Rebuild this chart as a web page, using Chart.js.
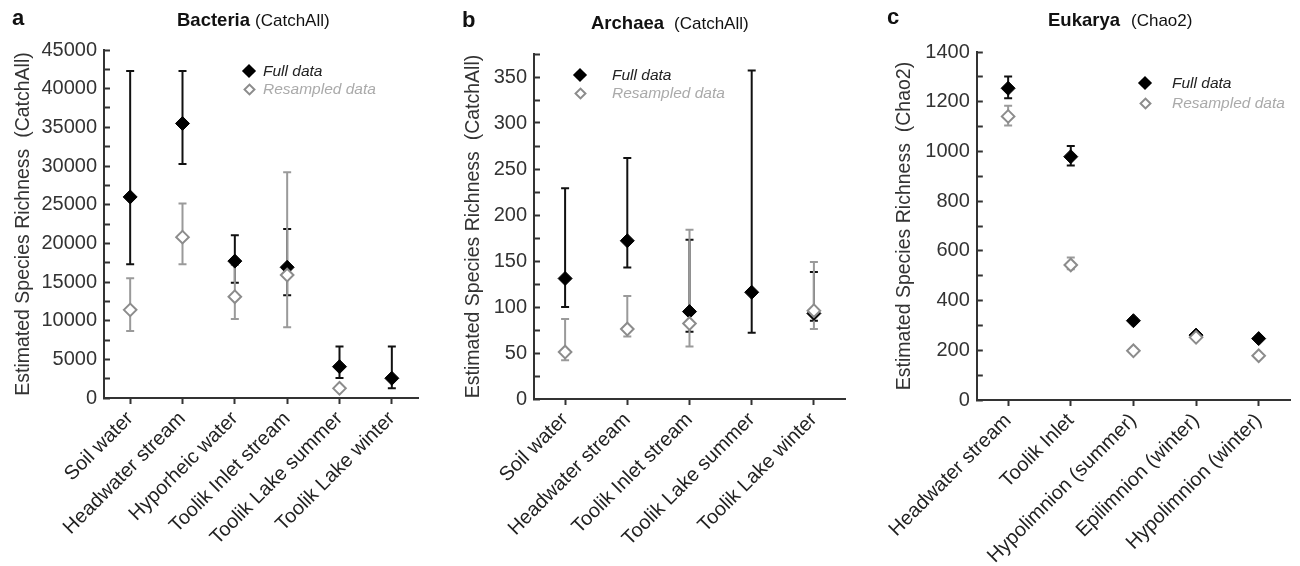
<!DOCTYPE html>
<html><head><meta charset="utf-8">
<script src="https://cdn.jsdelivr.net/npm/chart.js@4.4.0/dist/chart.umd.min.js"></script>
<style>
body{margin:0;width:1300px;height:566px;background:#fff;overflow:hidden;position:relative;font-family:"Liberation Sans",Arial,sans-serif;}
canvas{position:absolute;top:0;display:block}
.t{position:absolute;white-space:nowrap;line-height:1;color:#111}
.leg{position:absolute;white-space:nowrap;font-style:italic;font-size:15.5px;line-height:18px}
.dm{position:absolute;transform:rotate(45deg);box-sizing:border-box}
.dm.full{width:10px;height:10px;background:#000}
.dm.res{width:9px;height:9px;background:#fff;border:2px solid #8c8c8c}
</style>
</head><body>
<canvas id="ca" width="440" height="566" style="left:0px"></canvas>
<canvas id="cb" width="440" height="566" style="left:440px"></canvas>
<canvas id="cc" width="420" height="566" style="left:880px"></canvas>

<div class="t" style="left:12px;top:7px;font-size:22px;font-weight:bold">a</div>
<div class="t" style="left:177px;top:11px;font-size:18.5px"><b>Bacteria</b><span style="font-size:17px;margin-left:5px">(CatchAll)</span></div>
<div class="t" style="left:462px;top:9px;font-size:22px;font-weight:bold">b</div>
<div class="t" style="left:591px;top:14px;font-size:18.5px"><b>Archaea</b><span style="font-size:17px;margin-left:10px">(CatchAll)</span></div>
<div class="t" style="left:887px;top:6px;font-size:22px;font-weight:bold">c</div>
<div class="t" style="left:1048px;top:11px;font-size:18.5px"><b>Eukarya</b><span style="font-size:17px;margin-left:11px">(Chao2)</span></div>

<div class="dm full" style="left:244px;top:66px"></div>
<div class="leg" style="left:263px;top:62px;color:#222">Full data</div>
<div class="dm res" style="left:244.5px;top:84.5px"></div>
<div class="leg" style="left:263px;top:80px;color:#aaa">Resampled data</div>

<div class="dm full" style="left:575px;top:70px"></div>
<div class="leg" style="left:612px;top:66px;color:#222">Full data</div>
<div class="dm res" style="left:575.5px;top:88.5px"></div>
<div class="leg" style="left:612px;top:84px;color:#aaa">Resampled data</div>

<div class="dm full" style="left:1140px;top:78px"></div>
<div class="leg" style="left:1172px;top:74px;color:#222">Full data</div>
<div class="dm res" style="left:1140.5px;top:98.5px"></div>
<div class="leg" style="left:1172px;top:94px;color:#aaa">Resampled data</div>

<script>
// ---- Panel a: Bacteria (CatchAll)
const bacCats = ['Soil water','Headwater stream','Hyporheic water','Toolik Inlet stream','Toolik Lake summer','Toolik Lake winter'];
const bacFull   = [26000, 35500, 17700, 16900, 4050, 2550];
const bacFullLo = [17300, 30250, 14900, 13300, 2600, 1250];
const bacFullHi = [42300, 42300, 21050, 21850, 6650, 6650];
const bacRes    = [11400, 20800, 13100, 15900, 1250, null];
const bacResLo  = [8650, 17300, 10200, 9150, 1100, null];
const bacResHi  = [15500, 25150, 17200, 29200, 1400, null];

// ---- Panel b: Archaea (CatchAll)
const arcCats = ['Soil water','Headwater stream','Toolik Inlet stream','Toolik Lake summer','Toolik Lake winter'];
const arcFull   = [131, 172, 95, 116, 93];
const arcFullLo = [100, 143, 73, 72, 85];
const arcFullHi = [229, 262, 173, 357, 138];
const arcRes    = [51, 76, 82, null, 96];
const arcResLo  = [42, 68, 57, null, 76];
const arcResHi  = [87, 112, 184, null, 149];

// ---- Panel c: Eukarya (Chao2)
const eukCats = ['Headwater stream','Toolik Inlet','Hypolimnion (summer)','Epilimnion (winter)','Hypolimnion (winter)'];
const eukFull   = [1254, 979, 319, 261, 247];
const eukFullLo = [1214, 943, 311, 254, 240];
const eukFullHi = [1301, 1022, 327, 268, 254];
const eukRes    = [1141, 543, 198, 252, 178];
const eukResLo  = [1104, 526, 192, 246, 172];
const eukResHi  = [1184, 573, 204, 258, 184];

// y-axis settings (max, minor step, labelled step)
const bacAxis = {max:45000, step:2500, labelStep:5000};
const arcAxis = {max:375, step:25, labelStep:50};
const eukAxis = {max:1400, step:100, labelStep:200};

const errorBars = {
  id:'errorBars',
  beforeDatasetsDraw(chart){
    const {ctx} = chart;
    const x = chart.scales.x, y = chart.scales.y;
    const cap = 4;
    chart.data.datasets.forEach((ds)=>{
      ctx.save();
      ctx.strokeStyle = ds.errColor;
      ctx.lineWidth = 2;
      ds.errLo.forEach((lo,j)=>{
        const hi = ds.errHi[j];
        if(lo==null||hi==null) return;
        const px = x.getPixelForValue(j);
        const pl = y.getPixelForValue(lo), ph = y.getPixelForValue(hi);
        ctx.beginPath();
        ctx.moveTo(px,pl); ctx.lineTo(px,ph);
        ctx.moveTo(px-cap,pl); ctx.lineTo(px+cap,pl);
        ctx.moveTo(px-cap,ph); ctx.lineTo(px+cap,ph);
        ctx.stroke();
      });
      ctx.restore();
    });
  }
};

function makeChart(id, cats, full, fLo, fHi, res, rLo, rHi, axis, yTitle, geo){
  return new Chart(document.getElementById(id), {
    type:'line',
    data:{
      labels:cats,
      datasets:[
        {label:'Full data', data:full, errLo:fLo, errHi:fHi, errColor:'#111',
         showLine:false, pointStyle:'rectRot', pointRadius:7, pointBackgroundColor:'#000',
         pointBorderColor:'#000', pointBorderWidth:1, order:1},
        {label:'Resampled data', data:res, errLo:rLo, errHi:rHi, errColor:'#9a9a9a',
         showLine:false, pointStyle:'rectRot', pointRadius:6.3, pointBackgroundColor:'#fff',
         pointBorderColor:'#8c8c8c', pointBorderWidth:2, order:0}
      ]
    },
    options:{
      responsive:false, animation:false, devicePixelRatio:1,
      layout:{padding:{top:geo.top, right:geo.right, left:0, bottom:0}},
      plugins:{legend:{display:false}, tooltip:{enabled:false}, title:{display:false}},
      scales:{
        x:{
          type:'category', offset:true,
          grid:{offset:false, drawOnChartArea:false, tickLength:6, tickWidth:2, tickColor:'#333'},
          border:{display:true, color:'#333', width:2},
          ticks:{minRotation:45, maxRotation:45, autoSkip:false, padding:3,
                 color:'#222', font:{family:'"Liberation Sans", Arial, sans-serif', size:20}},
          afterFit(s){ s.height = geo.xh; }
        },
        y:{
          type:'linear', min:0, max:axis.max,
          grid:{drawOnChartArea:false, tickLength:-6, tickWidth:2, tickColor:'#333'},
          border:{display:true, color:'#333', width:2},
          ticks:{stepSize:axis.step, autoSkip:false, padding:13, color:'#333',
                 font:{family:'"Liberation Sans", Arial, sans-serif', size:20},
                 callback:(v)=> (Math.round(v) % axis.labelStep === 0 ? String(v) : '')},
          title:{display:true, text:yTitle, color:'#333', padding:{top:geo.tpad, bottom:0},
                 font:{family:'"Liberation Sans", Arial, sans-serif', size:19.5}},
          afterFit(s){ s.width = geo.yw; }
        }
      }
    },
    plugins:[errorBars]
  });
}

makeChart('ca', bacCats, bacFull, bacFullLo, bacFullHi, bacRes, bacResLo, bacResHi, bacAxis,
  'Estimated Species Richness  (CatchAll)', {top:50, right:22, xh:168, yw:104, tpad:12});
makeChart('cb', arcCats, arcFull, arcFullLo, arcFullHi, arcRes, arcResLo, arcResHi, arcAxis,
  'Estimated Species Richness  (CatchAll)', {top:54, right:35, xh:167, yw:94, tpad:22});
makeChart('cc', eukCats, eukFull, eukFullLo, eukFullHi, eukRes, eukResLo, eukResHi, eukAxis,
  'Estimated Species Richness  (Chao2)', {top:52, right:10, xh:166, yw:96, tpad:12});
</script>
</body></html>
